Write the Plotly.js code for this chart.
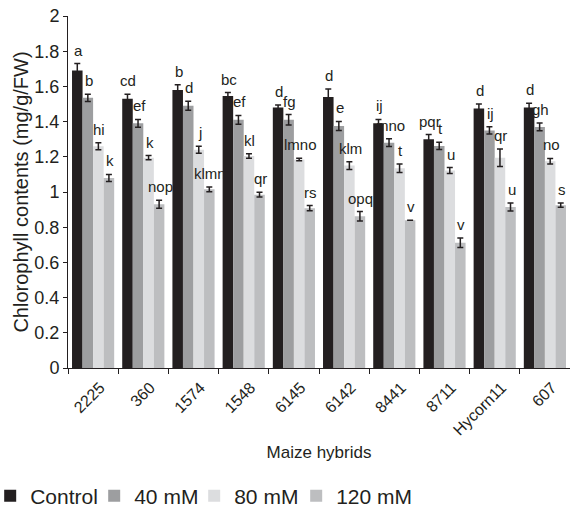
<!DOCTYPE html>
<html>
<head>
<meta charset="utf-8">
<script src="https://cdn.plot.ly/plotly-3.0.1.min.js"></script>
<style>html,body{margin:0;padding:0;background:#fff;}#chart{width:570px;height:508px;}</style>
</head>
<body>
<div id="chart"></div>
<script>
const hybrids = ["2225", "360", "1574", "1548", "6145", "6142", "8441", "8711", "Hycorn11", "607"];
const seriesNames = ["Control", "40 mM", "80 mM", "120 mM"];

const control = [1.69, 1.53, 1.58, 1.545, 1.48, 1.54, 1.39, 1.30, 1.475, 1.48];
const mM40 = [1.535, 1.39, 1.49, 1.41, 1.41, 1.375, 1.28, 1.262, 1.35, 1.37];
const mM80 = [1.26, 1.195, 1.24, 1.205, 1.185, 1.15, 1.135, 1.122, 1.195, 1.175];
const mM120 = [1.08, 0.93, 1.015, 0.985, 0.908, 0.862, 0.84, 0.712, 0.915, 0.925];

const errControl = [0.04, 0.025, 0.03, 0.02, 0.015, 0.045, 0.022, 0.026, 0.025, 0.024];
const err40 = [0.021, 0.022, 0.025, 0.025, 0.03, 0.026, 0.022, 0.021, 0.021, 0.022];
const err80 = [0.02, 0.012, 0.02, 0.013, 0.007, 0.022, 0.024, 0.017, 0.05, 0.016];
const err120 = [0.02, 0.023, 0.013, 0.013, 0.015, 0.027, 0, 0.027, 0.023, 0.012];

const lettersControl = ["a", "cd", "b", "bc", "d", "d", "ij", "pqr", "d", "d"];
const letters40 = ["b", "ef", "d", "ef", "fg", "e", "mno", "t", "ij", "gh"];
const letters80 = ["hi", "k", "j", "kl", "lmno", "klm", "t", "u", "qr", "no"];
const letters120 = ["k", "nop", "klmn", "qr", "rs", "opq", "v", "v", "u", "s"];

const colors = ["#231f20", "#9d9ea0", "#dcdddf", "#bdbec0"];
const legendWidths = [59, 55, 57, 80];
const values = [control, mM40, mM80, mM120];
const errors = [errControl, err40, err80, err120];
const letters = [lettersControl, letters40, letters80, letters120];

const FONT = "Liberation Sans, Arial, sans-serif";
const INK = "#231f20";
const bargap = 0.16;
const catPx = 502 / hybrids.length;
const barPx = catPx * (1 - bargap) / 4;

const traces = values.map((v, i) => ({
  type: "bar",
  name: seriesNames[i],
  x: hybrids,
  y: v,
  legendwidth: legendWidths[i],
  marker: {color: colors[i], line: {width: 0}},
  error_y: {type: "data", array: errors[i], visible: true, color: INK, thickness: 1.5, width: 3},
  hoverinfo: "skip"
}));

const annotations = [];
values.forEach((v, i) => {
  v.forEach((val, j) => {
    annotations.push({
      x: j, y: val + errors[i][j], xref: "x", yref: "y",
      text: letters[i][j], showarrow: false,
      xanchor: "center", yanchor: "bottom",
      xshift: (i - 1.5) * barPx + 1, yshift: 3,
      font: {family: FONT, size: 15, color: INK}
    });
  });
});

const layout = {
  width: 570, height: 508,
  margin: {l: 68, r: 0, t: 16, b: 140, autoexpand: false},
  paper_bgcolor: "#ffffff", plot_bgcolor: "#ffffff",
  barmode: "group", bargap: bargap, bargroupgap: 0,
  font: {family: FONT, color: INK},
  showlegend: true,
  legend: {
    orientation: "h", x: -0.155, xanchor: "left", y: -0.364, yanchor: "middle",
    font: {family: FONT, size: 21, color: INK},
    itemwidth: 30, traceorder: "normal"
  },
  xaxis: {
    type: "category",
    range: [-0.5, hybrids.length - 0.5],
    tickson: "boundaries",
    ticks: "outside", ticklen: 5, tickcolor: INK, tickwidth: 1,
    showline: true, linecolor: INK, linewidth: 1,
    showgrid: false, zeroline: false,
    tickangle: -45, ticklabelshift: 7, ticklabelstandoff: 3,
    tickfont: {family: FONT, size: 16, color: INK},
    title: {text: "Maize hybrids", font: {family: FONT, size: 17, color: INK}, standoff: 8},
    automargin: false
  },
  yaxis: {
    range: [0, 2], dtick: 0.2, tick0: 0,
    ticks: "outside", ticklen: 4, tickcolor: INK, tickwidth: 1,
    showline: true, linecolor: INK, linewidth: 1,
    showgrid: false, zeroline: false,
    tickfont: {family: FONT, size: 18, color: INK},
    title: {text: "Chlorophyll contents (mg/g/FW)", font: {family: FONT, size: 20, color: INK}, standoff: 0},
    automargin: false
  },
  annotations: annotations
};

Plotly.newPlot("chart", traces, layout, {staticPlot: true, displayModeBar: false});
</script>
</body>
</html>
